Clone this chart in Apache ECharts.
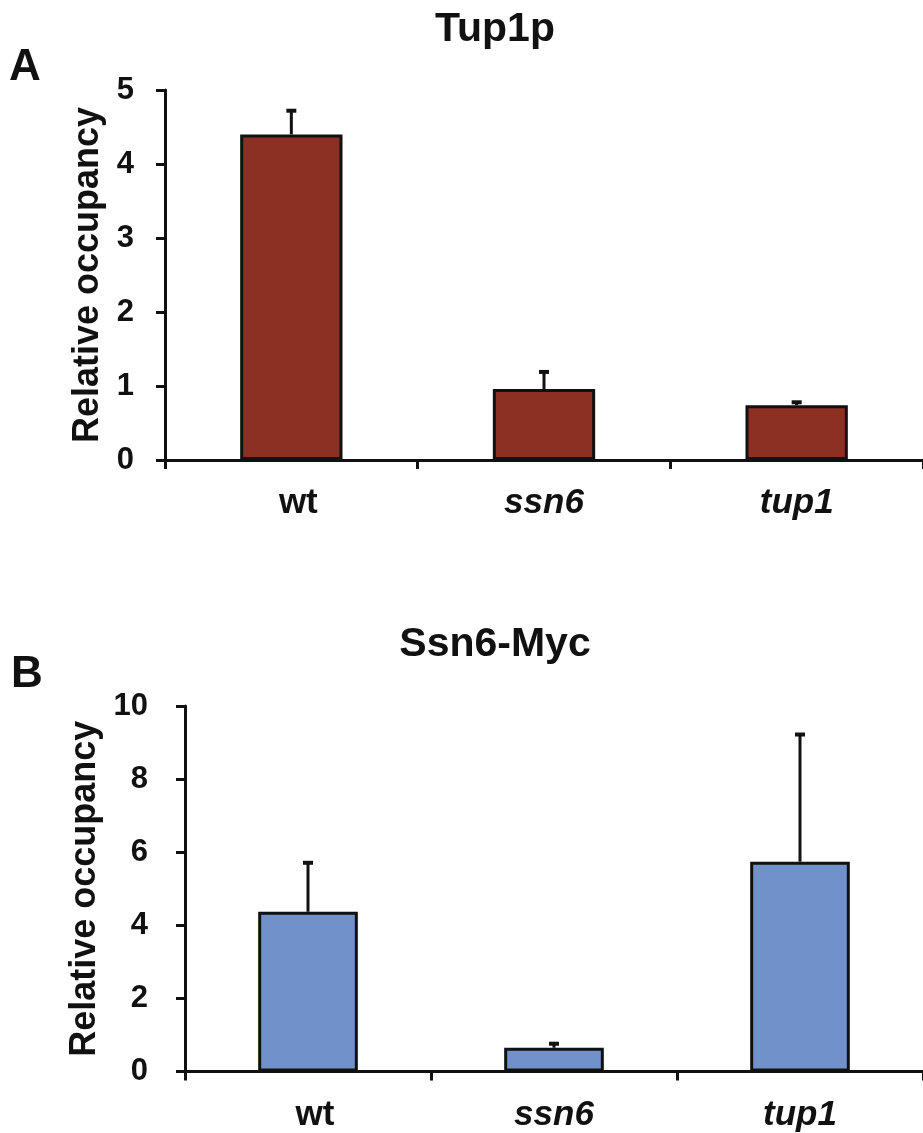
<!DOCTYPE html>
<html>
<head>
<meta charset="utf-8">
<script src="https://cdn.jsdelivr.net/npm/echarts@6/dist/echarts.min.js"></script>
<style>
  html, body { margin: 0; padding: 0; background: #ffffff; }
  #chart { width: 923px; height: 1133px; }
</style>
</head>
<body>
<div id="chart"></div>
<script>
// Strains on the x axis (both panels)
const categories = ['wt', 'ssn6', 'tup1'];

// Panel A: Tup1p relative occupancy, mean and upper error
const tup1pOccupancy = [4.40, 0.96, 0.74];
const tup1pError = [0.32, 0.23, 0.04];

// Panel B: Ssn6-Myc relative occupancy, mean and upper error
const ssn6MycOccupancy = [4.37, 0.65, 5.74];
const ssn6MycError = [1.34, 0.11, 3.48];

const FONT = "'Liberation Sans', Arial, Helvetica, sans-serif";
const INK = '#111111';

function errorData(values, errors) {
  return values.map((v, i) => [i, v, errors[i]]);
}

// One-sided (upward) error bar with a short cap
function renderErrorBar(params, api) {
  const idx = api.value(0);
  const mean = api.value(1);
  const err = api.value(2);
  const base = api.coord([idx, mean]);
  const top = api.coord([idx, mean + err]);
  const half = 5;
  const style = { stroke: INK, lineWidth: 3 };
  return {
    type: 'group',
    children: [
      { type: 'line', shape: { x1: base[0], y1: base[1], x2: top[0], y2: top[1] }, style },
      { type: 'line', shape: { x1: top[0] - half, y1: top[1], x2: top[0] + half, y2: top[1] }, style: { stroke: INK, lineWidth: 4 } }
    ]
  };
}

function xAxisFor(gridIndex) {
  return {
    type: 'category',
    gridIndex,
    data: categories,
    axisLine: { lineStyle: { color: INK, width: 3 } },
    axisTick: { show: true, length: 9, lineStyle: { color: INK, width: 3 } },
    axisLabel: {
      margin: 26,
      formatter: v => (v === 'wt' ? '{n|' + v + '}' : '{i|' + v + '}'),
      rich: {
        n: { fontFamily: FONT, fontWeight: 'bold', fontSize: 35, color: INK, padding: [0, 0, 0, 14] },
        i: { fontFamily: FONT, fontWeight: 'bold', fontStyle: 'italic', fontSize: 35, color: INK }
      }
    },
    splitLine: { show: false }
  };
}

function yAxisFor(gridIndex, max, interval, nameGap, labelMargin) {
  return {
    type: 'value',
    gridIndex,
    min: 0,
    max,
    interval,
    name: 'Relative occupancy',
    nameLocation: 'middle',
    nameGap,
    nameTextStyle: { fontFamily: FONT, fontWeight: 'bold', fontSize: 36, color: INK },
    axisLine: { show: true, lineStyle: { color: INK, width: 3 } },
    axisTick: { show: true, length: 9, lineStyle: { color: INK, width: 3 } },
    axisLabel: { margin: labelMargin, fontFamily: FONT, fontWeight: 'bold', fontSize: 31, color: INK },
    splitLine: { show: false }
  };
}

const chart = echarts.init(document.getElementById('chart'), null, { renderer: 'canvas' });

chart.setOption({
  backgroundColor: '#ffffff',
  animation: false,
  title: [
    {
      text: 'Tup1p', left: 495, top: 9, textAlign: 'center', padding: 0,
      textStyle: { fontFamily: FONT, fontWeight: 'bold', fontSize: 41, color: INK }
    },
    {
      text: 'Ssn6-Myc', left: 495, top: 624, textAlign: 'center', padding: 0,
      textStyle: { fontFamily: FONT, fontWeight: 'bold', fontSize: 41, color: INK }
    }
  ],
  graphic: [
    { type: 'text', left: 9, top: 46, style: { text: 'A', font: "bold 44px " + FONT, fill: INK } },
    { type: 'text', left: 11, top: 653, style: { text: 'B', font: "bold 44px " + FONT, fill: INK } }
  ],
  grid: [
    { left: 165, top: 90, width: 760, height: 370 },
    { left: 185, top: 706, width: 738, height: 365.5 }
  ],
  xAxis: [xAxisFor(0), xAxisFor(1)],
  yAxis: [yAxisFor(0, 5, 1, 55, 31), yAxisFor(1, 10, 2, 77, 37)],
  series: [
    {
      name: 'Tup1p',
      type: 'bar',
      xAxisIndex: 0,
      yAxisIndex: 0,
      data: tup1pOccupancy,
      barWidth: '40.5%',
      itemStyle: { color: '#8b3022', borderColor: INK, borderWidth: 3 }
    },
    {
      name: 'Tup1p error',
      type: 'custom',
      xAxisIndex: 0,
      yAxisIndex: 0,
      data: errorData(tup1pOccupancy, tup1pError),
      renderItem: renderErrorBar,
      z: 3
    },
    {
      name: 'Ssn6-Myc',
      type: 'bar',
      xAxisIndex: 1,
      yAxisIndex: 1,
      data: ssn6MycOccupancy,
      barWidth: '40.5%',
      itemStyle: { color: '#7191cb', borderColor: INK, borderWidth: 3 }
    },
    {
      name: 'Ssn6-Myc error',
      type: 'custom',
      xAxisIndex: 1,
      yAxisIndex: 1,
      data: errorData(ssn6MycOccupancy, ssn6MycError),
      renderItem: renderErrorBar,
      z: 3
    }
  ]
});
</script>
</body>
</html>
